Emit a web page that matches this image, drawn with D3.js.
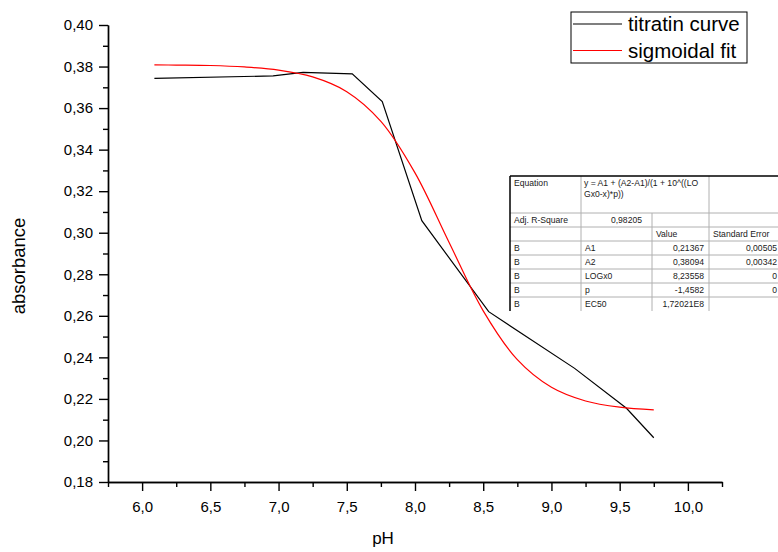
<!DOCTYPE html>
<html>
<head>
<meta charset="utf-8">
<script src="https://cdn.jsdelivr.net/npm/d3@7"></script>
<style>
  body { margin: 0; background: #fff; }
  text { font-family: Arial, "Liberation Sans", sans-serif; }
</style>
</head>
<body>
<svg width="778" height="552"></svg>
<script>
// titration curve (black)
var phTitr = [6.09, 6.96, 7.18, 7.54, 7.76, 8.05, 8.54, 9.17, 9.55, 9.75]
var absTitr = [0.3743, 0.3755, 0.3772, 0.3765, 0.3631, 0.3058, 0.2620, 0.2347, 0.2155, 0.2013]

// sigmoidal fit (red)
var phFit = [6.09, 6.25, 6.5, 6.75, 7.0, 7.25, 7.5, 7.75, 8.0, 8.25, 8.5, 8.75, 9.0, 9.25, 9.5, 9.75]
var absFit = [0.3808, 0.3807, 0.3805, 0.3798, 0.3783, 0.3750, 0.3679, 0.3536, 0.3288, 0.2953,
  0.2624, 0.2389, 0.2256, 0.2190, 0.2160, 0.2147]

var xMajor = [6.0, 6.5, 7.0, 7.5, 8.0, 8.5, 9.0, 9.5, 10.0]
var xMinor = [5.75, 6.25, 6.75, 7.25, 7.75, 8.25, 8.75, 9.25, 9.75, 10.25]
var yMajor = [0.18, 0.20, 0.22, 0.24, 0.26, 0.28, 0.30, 0.32, 0.34, 0.36, 0.38, 0.40]
var yMinor = [0.19, 0.21, 0.23, 0.25, 0.27, 0.29, 0.31, 0.33, 0.35, 0.37, 0.39]

var seriesNames = ['titratin curve', 'sigmoidal fit']

// fit table
var tableEquation = ['y = A1 + (A2-A1)/(1 + 10^((LO', 'Gx0-x)*p))']
var tableAdjR2 = '0,98205'
var tableParams = ['A1', 'A2', 'LOGx0', 'p', 'EC50']
var tableValues = ['0,21367', '0,38094', '8,23558', '-1,4582', '1,72021E8']
var tableErrors = ['0,00505', '0,00342', '0', '0', '']

var svg = d3.select('svg')

var x = d3.scaleLinear().domain([5.75, 10.25]).range([108, 722])
var y = d3.scaleLinear().domain([0.18, 0.40]).range([482, 25])

var loc = d3.formatLocale({decimal: ',', thousands: '.', grouping: [3], currency: ['', '']})

// axes: major + minor ticks
function styleAxis(g) {
  g.select('.domain').attr('stroke', '#000').attr('stroke-width', 1.4)
  g.selectAll('.tick line').attr('stroke', '#000').attr('stroke-width', 1.4)
  g.selectAll('.tick text').style('font-size', '15px').attr('fill', '#000')
}

svg.append('g')
  .attr('transform', 'translate(0,482)')
  .call(d3.axisBottom(x).tickValues(xMinor).tickSize(5).tickSizeOuter(0).tickFormat(''))
  .call(styleAxis)
svg.append('g')
  .attr('transform', 'translate(0,482)')
  .call(d3.axisBottom(x).tickValues(xMajor).tickSize(9).tickSizeOuter(0).tickPadding(10).tickFormat(loc.format('.1f')))
  .call(styleAxis)

svg.append('g')
  .attr('transform', 'translate(108,0)')
  .call(d3.axisLeft(y).tickValues(yMinor).tickSize(5).tickSizeOuter(0).tickFormat(''))
  .call(styleAxis)
svg.append('g')
  .attr('transform', 'translate(108,0)')
  .call(d3.axisLeft(y).tickValues(yMajor).tickSize(9).tickSizeOuter(0).tickPadding(6).tickFormat(loc.format('.2f')))
  .call(styleAxis)

// axis titles
svg.append('text')
  .attr('x', 383).attr('y', 544)
  .attr('text-anchor', 'middle')
  .style('font-size', '17px')
  .text('pH')

svg.append('text')
  .attr('transform', 'translate(25,266) rotate(-90)')
  .attr('text-anchor', 'middle')
  .style('font-size', '18.5px')
  .text('absorbance')

// lines
var line = d3.line()
  .x(function(d) { return x(d[0]) })
  .y(function(d) { return y(d[1]) })

svg.append('path')
  .datum(phTitr.map(function(p, i) { return [p, absTitr[i]] }))
  .attr('d', line)
  .attr('fill', 'none')
  .attr('stroke', '#000')
  .attr('stroke-width', 1.2)

svg.append('path')
  .datum(phFit.map(function(p, i) { return [p, absFit[i]] }))
  .attr('d', line.curve(d3.curveCatmullRom))
  .attr('fill', 'none')
  .attr('stroke', '#ff0000')
  .attr('stroke-width', 1.2)

// legend
var legend = svg.append('g')
legend.append('rect')
  .attr('x', 571).attr('y', 12).attr('width', 176).attr('height', 51)
  .attr('fill', '#fff').attr('stroke', '#000').attr('stroke-width', 1)
var legColors = ['#000', '#ff0000']
seriesNames.forEach(function(name, i) {
  var ly = 24 + i * 26.5
  legend.append('line')
    .attr('x1', 573).attr('x2', 622).attr('y1', ly).attr('y2', ly)
    .attr('stroke', legColors[i]).attr('stroke-width', 1.2)
  legend.append('text')
    .attr('x', 628).attr('y', ly + 7)
    .style('font-size', '20.5px')
    .text(name)
})

// fit result table
var cols = [510, 581, 652, 709, 780]
var rows = [176, 213, 227, 241, 255, 269, 283, 297, 311]
var tbl = svg.append('g').style('font-size', '8.6px').attr('fill', '#1a1a1a')

tbl.append('rect')
  .attr('x', cols[0]).attr('y', rows[0])
  .attr('width', cols[4] - cols[0]).attr('height', rows[8] - rows[0])
  .attr('fill', '#fff')

// gray grid lines
rows.slice(1, 8).forEach(function(r) {
  tbl.append('line').attr('x1', cols[0]).attr('x2', cols[4]).attr('y1', r).attr('y2', r)
    .attr('stroke', '#b0b0b0').attr('stroke-width', 1)
})
;[1, 2, 3].forEach(function(c) {
  var top = c == 2 ? rows[1] : rows[0]
  tbl.append('line').attr('x1', cols[c]).attr('x2', cols[c]).attr('y1', top).attr('y2', rows[8])
    .attr('stroke', '#b0b0b0').attr('stroke-width', 1)
})
// black outer edges
tbl.append('line').attr('x1', cols[0]).attr('x2', cols[4]).attr('y1', rows[0]).attr('y2', rows[0])
  .attr('stroke', '#000').attr('stroke-width', 1.5)
tbl.append('line').attr('x1', cols[0]).attr('x2', cols[0]).attr('y1', rows[0]).attr('y2', rows[8])
  .attr('stroke', '#000').attr('stroke-width', 1.5)

function cell(txt, c, r, align, pad) {
  var tx = align == 'end' ? cols[c + 1] - pad : cols[c] + 4
  if (c == 3 && align == 'end') tx = 777
  tbl.append('text')
    .attr('x', tx).attr('y', rows[r] + 10)
    .attr('text-anchor', align)
    .text(txt)
}

tbl.append('text').attr('x', cols[0] + 4).attr('y', rows[0] + 10).text('Equation')
tableEquation.forEach(function(t, i) {
  tbl.append('text').attr('x', cols[1] + 3).attr('y', rows[0] + 10 + i * 11).text(t)
})
cell('Adj. R-Square', 0, 1, 'start')
cell(tableAdjR2, 1, 1, 'end', 10)
cell('Value', 2, 2, 'start')
cell('Standard Error', 3, 2, 'start')
tableParams.forEach(function(p, i) {
  cell('B', 0, 3 + i, 'start')
  cell(p, 1, 3 + i, 'start')
  cell(tableValues[i], 2, 3 + i, 'end', 5)
  if (tableErrors[i] !== '') cell(tableErrors[i], 3, 3 + i, 'end', 3)
})
</script>
</body>
</html>
